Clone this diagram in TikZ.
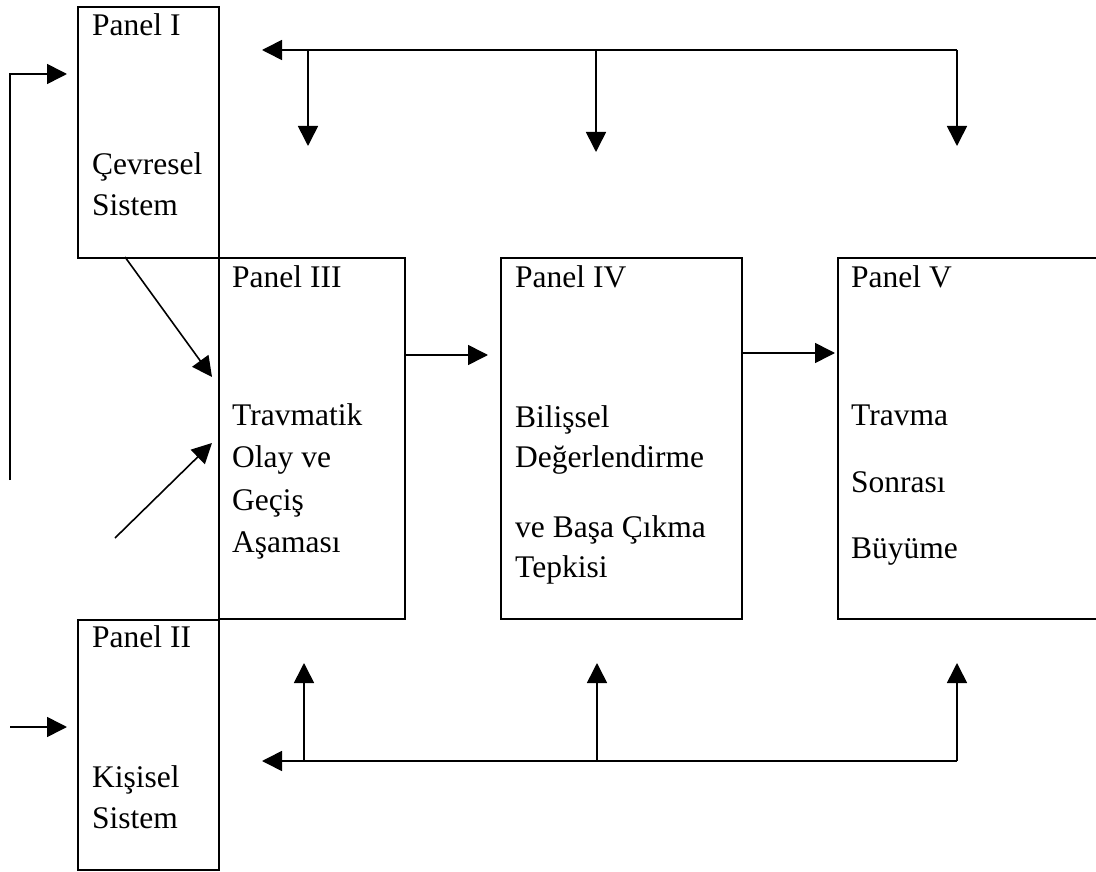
\documentclass[tikz,border=0pt]{standalone}
\usepackage{fontspec}
\setmainfont{Liberation Serif}
\usetikzlibrary{arrows.meta}
\begin{document}
\begin{tikzpicture}[x=1pt,y=-1pt,
  box/.style={draw,line width=2.2pt,inner sep=0pt,anchor=north west},
  txt/.style={anchor=base west,inner sep=0pt,font=\fontsize{31.5}{36}\selectfont},
  arr/.style={line width=1.6pt,-{Triangle[length=20pt,width=20pt]}},
  ln/.style={line width=1.6pt}]
\clip (0,0) rectangle (1096,872);
\fill[white] (0,0) rectangle (1096,872);
% boxes
\node[box,minimum width=141pt,minimum height=251pt] (p1) at (77,6) {};
\node[box,minimum width=186pt,minimum height=361pt] (p3) at (218,257) {};
\node[box,minimum width=241pt,minimum height=361pt] (p4) at (500,257) {};
\node[box,minimum width=300pt,minimum height=361pt] (p5) at (837,257) {};
\node[box,minimum width=141pt,minimum height=250pt] (p2) at (77,619) {};
% texts
\node[txt] (t1a) at (92,36) {Panel I};
\node[txt] (t1b) at (92,175) {Çevresel};
\node[txt] (t1c) at (92,215) {Sistem};
\node[txt] (t3a) at (232,287) {Panel III};
\node[txt] (t3b) at (232,425) {Travmatik};
\node[txt] (t3c) at (232,467) {Olay ve};
\node[txt] (t3d) at (232,510) {Geçiş};
\node[txt] (t3e) at (232,552) {Aşaması};
\node[txt] (t4a) at (515,287) {Panel IV};
\node[txt] (t4b) at (515,427) {Bilişsel};
\node[txt] (t4c) at (515,467) {Değerlendirme};
\node[txt] (t4d) at (515,537) {ve Başa Çıkma};
\node[txt] (t4e) at (515,577) {Tepkisi};
\node[txt] (t5a) at (851,287) {Panel V};
\node[txt] (t5b) at (851,425) {Travma};
\node[txt] (t5c) at (851,492) {Sonrası};
\node[txt] (t5d) at (851,558) {Büyüme};
\node[txt] (t2a) at (92,647) {Panel II};
\node[txt] (t2b) at (92,787) {Kişisel};
\node[txt] (t2c) at (92,828) {Sistem};
% coordinates
\coordinate (a13s) at (125,257);
\coordinate (a13e) at (212,377);
\coordinate (a23s) at (115,538);
\coordinate (a23e) at (212,443);
\coordinate (a34s) at (404,355);
\coordinate (a34e) at (488,355);
\coordinate (a45s) at (741,353);
\coordinate (a45e) at (835,353);
\coordinate (fb0) at (10,480);
\coordinate (fb1) at (10,74);
\coordinate (fb2) at (67,74);
\coordinate (in2s) at (10,727);
\coordinate (in2e) at (67,727);
\coordinate (tr) at (957,50);
\coordinate (tl) at (262,50);
\coordinate (t1) at (308,50);
\coordinate (t1e) at (308,146);
\coordinate (t2) at (596,50);
\coordinate (t2e) at (596,152);
\coordinate (t3e) at (957,146);
\coordinate (br) at (957,761);
\coordinate (bl) at (262,761);
\coordinate (b1) at (304,761);
\coordinate (b1e) at (304,663);
\coordinate (b2) at (597,761);
\coordinate (b2e) at (597,663);
\coordinate (b3e) at (957,663);
% connectors
\draw[arr] (a13s) -- (a13e);
\draw[arr] (a23s) -- (a23e);
\draw[arr] (a34s) -- (a34e);
\draw[arr] (a45s) -- (a45e);
\draw[arr] (fb0) -- (fb1) -- (fb2);
\draw[arr] (in2s) -- (in2e);
\draw[arr] (tr) -- (tl);
\draw[arr] (t1) -- (t1e);
\draw[arr] (t2) -- (t2e);
\draw[arr] (tr) -- (t3e);
\draw[arr] (br) -- (bl);
\draw[arr] (b1) -- (b1e);
\draw[arr] (b2) -- (b2e);
\draw[arr] (br) -- (b3e);
\end{tikzpicture}
\end{document}
